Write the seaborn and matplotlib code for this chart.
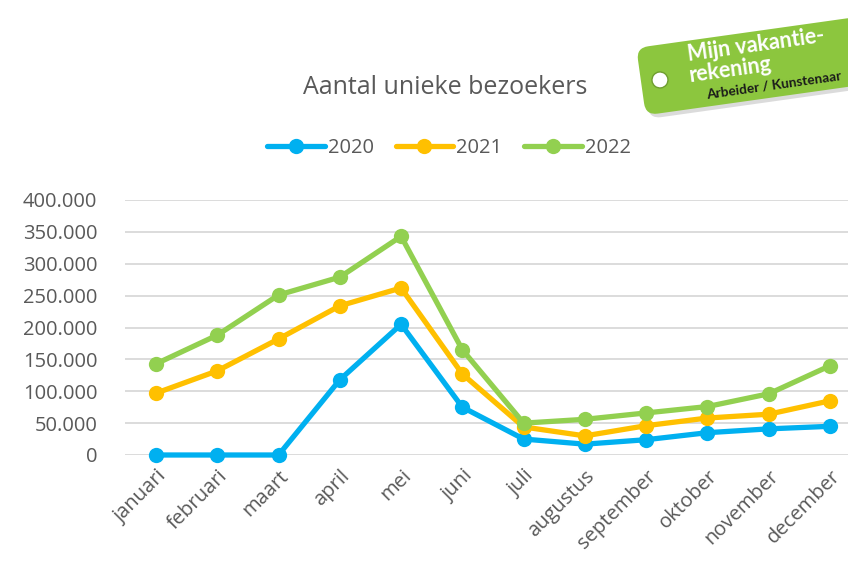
import matplotlib
matplotlib.use("Agg")
import matplotlib.pyplot as plt
import seaborn as sns
import pandas as pd
from matplotlib.patches import FancyBboxPatch, Circle
from matplotlib.lines import Line2D
import matplotlib.transforms as mtransforms

months = ["januari", "februari", "maart", "april", "mei", "juni", "juli",
          "augustus", "september", "oktober", "november", "december"]
v2020 = [0, 0, 0, 118000, 205000, 75000, 25000, 17000, 24000, 35000, 41000, 45000]
v2021 = [97000, 132000, 182000, 234000, 262000, 127000, 44000, 30000, 46000, 58000, 64000, 85000]
v2022 = [143000, 188000, 251000, 279000, 343000, 165000, 50000, 56000, 66000, 76000, 96000, 140000]
years = ["2020", "2021", "2022"]
colors = ["#00b0f0", "#ffc000", "#92d050"]
yticks = [0, 50000, 100000, 150000, 200000, 250000, 300000, 350000, 400000]
ytick_labels = ["0", "50.000", "100.000", "150.000", "200.000", "250.000", "300.000", "350.000", "400.000"]

rows = []
for y, vals in zip(years, [v2020, v2021, v2022]):
    for i, (m, v) in enumerate(zip(months, vals)):
        rows.append({"idx": i, "maand": m, "jaar": y, "bezoekers": v})
df = pd.DataFrame(rows)

sns.set_style("white")
plt.rcParams["font.family"] = ["Open Sans", "DejaVu Sans"]
TXT = "#595959"

W, H = 848, 561
fig = plt.figure(figsize=(W / 100, H / 100), dpi=100)
x0, x11 = 156, 830
unit = (x11 - x0) / 11
left_px, right_px = 125, 848
top_px, bot_px = 200, 455
ax = fig.add_axes([left_px / W, 1 - bot_px / H, (right_px - left_px) / W, (bot_px - top_px) / H])

sns.lineplot(data=df, x="idx", y="bezoekers", hue="jaar", palette=colors,
             marker="o", markersize=11, markeredgewidth=0, linewidth=3.8,
             ax=ax, legend=False)
for ln in ax.lines:
    ln.set_clip_on(False)
    ln.set_solid_capstyle("round")
    ln.set_solid_joinstyle("round")

ax.set_xlim(-(x0 - left_px) / unit, (right_px - x0) / unit)
ax.set_ylim(0, 400000)
ax.set_yticks(yticks)
ax.set_yticklabels(ytick_labels)
ax.set_xticks(range(len(months)))
ax.set_xticklabels(months, rotation=45, ha="right", rotation_mode="anchor")
ax.yaxis.grid(True, color="#d9d9d9", linewidth=1.3)
ax.set_axisbelow(True)
for s in ax.spines.values():
    s.set_visible(False)
ax.tick_params(axis="y", length=0, pad=20, labelsize=14.5, labelcolor=TXT)
ax.tick_params(axis="x", length=0, pad=8, labelsize=14.5, labelcolor=TXT)
ax.set_xlabel("")
ax.set_ylabel("")

# title
fig.text(445 / W, 1 - 88 / H, "Aantal unieke bezoekers", ha="center", va="center",
         fontsize=18, color=TXT)

# legend
handles = [Line2D([], [], color=c, linewidth=3.8, marker="o", markersize=11, markeredgewidth=0,
                  solid_capstyle="round")
           for c in colors]
leg = fig.legend(handles, years, loc="center", bbox_to_anchor=(449 / W, 1 - 148 / H),
                 ncol=3, frameon=False, fontsize=14.5, handlelength=2.85,
                 columnspacing=1.1, handletextpad=0.15, labelcolor=TXT)

# tag in top-right, drawn in figure pixel coordinates
ov = fig.add_axes([0, 0, 1, 1], zorder=5)
ov.set_xlim(0, W)
ov.set_ylim(0, H)
ov.axis("off")
ang = 8
cx, cy = 745, H - 67
rot = mtransforms.Affine2D().rotate_deg_around(cx, cy, ang) + ov.transData
bw, bh = 225, 68
shadow = FancyBboxPatch((cx - 105 + 3, cy - bh / 2 - 4), bw, bh,
                        boxstyle="round,pad=0,rounding_size=12",
                        facecolor="#999999", edgecolor="none", alpha=0.35, transform=rot)
ov.add_patch(shadow)
tag = FancyBboxPatch((cx - 105, cy - bh / 2), bw, bh, boxstyle="round,pad=0,rounding_size=12",
                     facecolor="#8cc63e", edgecolor="none", transform=rot)
ov.add_patch(tag)
hole = Circle((cx - 86, cy - 1), 8, facecolor="white", edgecolor="#6f9e30", linewidth=1.0,
              transform=rot)
ov.add_patch(hole)
tag_font = ["Lato", "DejaVu Sans"]
ov.text(cx - 55, cy + 20, "Mijn vakantie-", transform=rot, fontsize=15.5, fontweight="bold",
        color="white", rotation=ang, rotation_mode="anchor", va="center", ha="left",
        family=tag_font)
ov.text(cx - 56, cy - 1, "rekening", transform=rot, fontsize=15.5, fontweight="bold",
        color="white", rotation=ang, rotation_mode="anchor", va="center", ha="left",
        family=tag_font)
ov.text(cx - 42, cy - 22, "Arbeider / Kunstenaar", transform=rot, fontsize=9.8,
        fontweight="bold", color="#1a1a1a", rotation=ang, rotation_mode="anchor",
        va="center", ha="left", family=tag_font)

fig.savefig("out.png", dpi=100)
